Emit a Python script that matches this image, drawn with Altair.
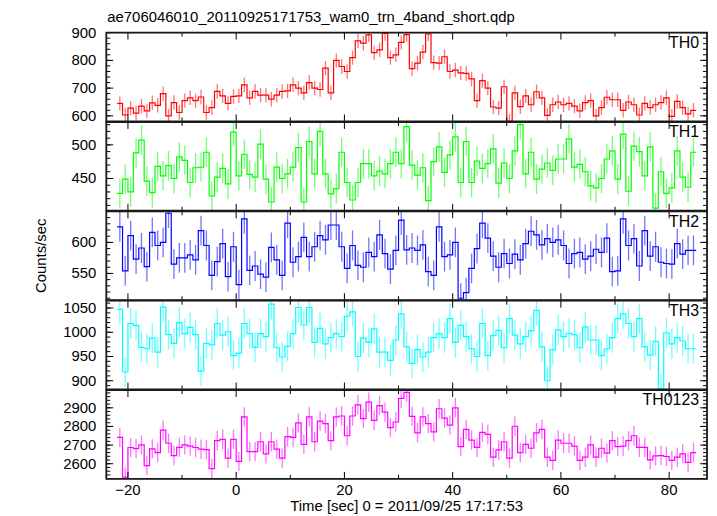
import altair as alt
import pandas as pd

# ---------------- data ----------------
TIME_START = -21.5          # centre of first 1-s bin
NAMES = ["TH0", "TH1", "TH2", "TH3", "TH0123"]
COLORS = ["#ff0000", "#00ff00", "#0000ff", "#00ffff", "#ff00ff"]

TH0 = [645, 603, 628, 610, 635, 618, 647, 638, 680, 600,
       648, 612, 655, 665, 655, 668, 612, 630, 688, 672,
       645, 670, 672, 712, 665, 688, 675, 675, 660, 675,
       688, 690, 712, 700, 683, 720, 700, 695, 772, 683,
       800, 778, 760, 810, 870, 862, 892, 828, 838, 897,
       810, 820, 865, 893, 770, 790, 830, 895, 792, 790,
       813, 760, 765, 755, 753, 733, 655, 727, 700, 632,
       628, 705, 580, 683, 633, 672, 640, 687, 665, 602,
       640, 650, 640, 645, 635, 618, 648, 655, 600, 630,
       667, 658, 658, 620, 650, 640, 603, 645, 630, 640,
       648, 665, 598, 652, 630, 607, 620]
TH1 = [428, 449, 430, 488, 507, 446, 429, 468, 454, 469,
       450, 482, 477, 444, 466, 467, 489, 424, 452, 465,
       442, 519, 454, 486, 456, 452, 501, 449, 415, 467,
       450, 457, 467, 496, 415, 505, 457, 520, 457, 427,
       435, 489, 444, 418, 444, 472, 472, 454, 461, 457,
       472, 489, 472, 527, 470, 455, 466, 417, 475, 497,
       459, 485, 512, 444, 505, 444, 476, 465, 472, 494,
       443, 473, 450, 491, 530, 457, 489, 449, 464, 473,
       462, 479, 479, 509, 467, 471, 460, 439, 436, 450,
       479, 491, 449, 516, 431, 498, 490, 454, 497, 406,
       460, 428, 436, 491, 452, 437, 489]
TH2 = [625, 554, 611, 573, 591, 561, 616, 595, 600, 647,
       565, 575, 575, 580, 572, 619, 595, 547, 569, 598,
       545, 593, 532, 638, 555, 562, 549, 544, 592, 572,
       547, 631, 568, 577, 608, 577, 593, 611, 604, 628,
       628, 593, 558, 595, 563, 560, 584, 577, 612, 582,
       557, 587, 636, 588, 591, 587, 596, 553, 547, 625,
       577, 580, 600, 510, 519, 558, 590, 631, 607, 578,
       560, 582, 566, 581, 572, 598, 618, 612, 596, 606,
       600, 604, 595, 566, 582, 584, 573, 578, 589, 584,
       607, 553, 554, 638, 595, 606, 562, 619, 578, 593,
       568, 566, 565, 598, 581, 587, 587]
TH3 = [1047, 918, 1018, 1014, 969, 966, 988, 959, 1052, 995,
       977, 1020, 997, 1010, 995, 920, 977, 974, 1018, 994,
       1001, 952, 957, 1018, 997, 969, 997, 991, 1058, 968,
       949, 971, 997, 1051, 1015, 1051, 979, 1008, 976, 989,
       997, 991, 1033, 1042, 950, 988, 979, 1007, 959, 959,
       942, 984, 1038, 970, 936, 964, 949, 959, 989, 997,
       989, 1028, 979, 1014, 991, 966, 950, 1018, 952, 993,
       1004, 968, 1028, 994, 976, 991, 1003, 1045, 970, 900,
       964, 1005, 991, 998, 995, 968, 1011, 984, 984, 952,
       966, 989, 1028, 1038, 1018, 991, 1028, 970, 953, 981,
       884, 999, 976, 989, 982, 966, 966]
TH0123 = [2741, 2528, 2687, 2681, 2701, 2590, 2680, 2660, 2780, 2710,
          2644, 2688, 2701, 2695, 2687, 2678, 2676, 2574, 2724, 2731,
          2630, 2731, 2613, 2851, 2665, 2665, 2718, 2653, 2718, 2678,
          2630, 2745, 2741, 2819, 2704, 2851, 2718, 2829, 2815, 2724,
          2851, 2856, 2750, 2856, 2916, 2842, 2930, 2833, 2912, 2877,
          2794, 2824, 2951, 2983, 2854, 2766, 2851, 2815, 2771, 2895,
          2845, 2807, 2900, 2692, 2784, 2727, 2688, 2768, 2757, 2635,
          2674, 2718, 2630, 2801, 2660, 2704, 2683, 2766, 2784, 2635,
          2618, 2727, 2710, 2710, 2695, 2618, 2635, 2701, 2635, 2683,
          2657, 2724, 2692, 2695, 2724, 2750, 2688, 2688, 2621, 2642,
          2644, 2639, 2618, 2635, 2653, 2607, 2660]
SERIES = [TH0, TH1, TH2, TH3, TH0123]
ERRS = [26, 22, 24, 31, 52]

X_DOMAIN = [-24, 87]
X_LABELS = [-20, 0, 20, 40, 60, 80]
X_MINOR = [-10, 10, 30, 50, 70]
Y_DOMAINS = [[580, 900], [402, 534], [507, 650], [882, 1065], [2519, 2995]]
Y_LABELS = [[600, 700, 800, 900], [450, 500], [550, 600],
            [900, 950, 1000, 1050], [2600, 2700, 2800, 2900]]
Y_MINOR_STEP = [20, 10, 10, 10, 20]

TITLE = "ae706046010_20110925171753_wam0_trn_4band_short.qdp"
X_TITLE = "Time [sec] 0 = 2011/09/25 17:17:53"
Y_TITLE = "Counts/sec"

# ---------------- layout ----------------
W, H = 605, 89.4
FONT = "Liberation Sans"
FS = 15


def txt(df, size=FS, **kw):
    return alt.Chart(df).mark_text(font=FONT, fontSize=size, color="black", **kw)


def panel(i):
    vals = SERIES[i]
    color = COLORS[i]
    n = len(vals)
    times = [TIME_START + k for k in range(n)]
    err = ERRS[i]
    df = pd.DataFrame({"t": times, "v": vals})
    df["lo"] = df["v"] - err
    df["hi"] = df["v"] + err
    edges = pd.DataFrame({"t": [t - 0.5 for t in times] + [times[-1] + 0.5],
                          "v": vals + [vals[-1]]})
    xs = alt.Scale(domain=X_DOMAIN, nice=False, zero=False)
    ys = alt.Scale(domain=Y_DOMAINS[i], nice=False, zero=False)

    bars = alt.Chart(df).mark_rule(color=color, opacity=0.55, strokeWidth=1.3, clip=True).encode(
        x=alt.X("t:Q", scale=xs, axis=None),
        y=alt.Y("lo:Q", scale=ys, axis=None),
        y2="hi:Q",
    )
    line = alt.Chart(edges).mark_line(interpolate="step-after", color=color, strokeWidth=1.2,
                                      clip=True).encode(
        x=alt.X("t:Q", scale=xs, axis=None),
        y=alt.Y("v:Q", scale=ys, axis=None),
    )
    label = txt(pd.DataFrame({"name": [NAMES[i]]}), size=FS + 1, align="right",
                baseline="alphabetic").encode(text="name:N", x=alt.value(W - 8), y=alt.value(15.5))

    ylab = txt(pd.DataFrame({"yv": Y_LABELS[i]}), align="right", baseline="middle").encode(
        text=alt.Text("yv:Q", format="d"),
        y=alt.Y("yv:Q", scale=ys, axis=None),
        x=alt.value(-10),
    )

    layers = [bars, line, label, ylab]

    lo, hi = Y_DOMAINS[i]
    step = Y_MINOR_STEP[i]
    start = (lo // step + 1) * step
    yminor = list(range(int(start), int(hi) + 1, step))
    for vals_t, L in [(Y_LABELS[i], 7), (yminor, 4)]:
        d = pd.DataFrame({"yt": vals_t})
        base = alt.Chart(d).mark_rule(color="black", strokeWidth=1)
        ye = alt.Y("yt:Q", scale=ys, axis=None)
        layers.append(base.encode(y=ye, x=alt.value(0), x2=alt.value(L)))
        layers.append(base.encode(y=ye, x=alt.value(W - L), x2=alt.value(W)))
    for vals_t, L in [(X_LABELS, 7), (X_MINOR, 4)]:
        d = pd.DataFrame({"xt": vals_t})
        base = alt.Chart(d).mark_rule(color="black", strokeWidth=1)
        xe = alt.X("xt:Q", scale=xs, axis=None)
        layers.append(base.encode(x=xe, y=alt.value(0), y2=alt.value(L)))
        layers.append(base.encode(x=xe, y=alt.value(H - L), y2=alt.value(H)))

    # panel frame
    layers.append(alt.Chart(pd.DataFrame({"f": [NAMES[i]]})).mark_rect(
        fill=None, fillOpacity=0, stroke="#1a1a1a", strokeWidth=1.8).encode(
        x=alt.value(0), x2=alt.value(W), y=alt.value(0), y2=alt.value(H)))

    if i == 0:
        layers.append(txt(pd.DataFrame({"title": [TITLE]}), align="left",
                          baseline="alphabetic").encode(
            text="title:N", x=alt.value(1), y=alt.value(-10.5)))
    if i == 2:
        layers.append(txt(pd.DataFrame({"yt": [Y_TITLE]}), align="center", baseline="middle",
                          angle=270).encode(
            text="yt:N", x=alt.value(-66), y=alt.value(H / 2)))
    if i == len(SERIES) - 1:
        xl = pd.DataFrame({"xv": X_LABELS,
                           "lab": [str(v).replace("-", "\u2212") for v in X_LABELS]})
        layers.append(txt(xl, align="center", baseline="top").encode(
            text="lab:N", x=alt.X("xv:Q", scale=xs, axis=None), y=alt.value(H + 4)))
        layers.append(txt(pd.DataFrame({"xt": [X_TITLE]}), align="center", baseline="top").encode(
            text="xt:N", x=alt.value(W / 2), y=alt.value(H + 20)))

    return alt.layer(*layers).properties(width=W, height=H)


chart = alt.vconcat(*[panel(i) for i in range(len(SERIES))], spacing=0,
                    bounds="flush").properties(
    padding={"left": 25, "top": 0, "right": 0, "bottom": 0},
    background="white",
).configure_view(stroke="#111111", strokeWidth=2).configure(font=FONT)

chart.save("out.html", embed_options={"renderer": "svg", "actions": False})
